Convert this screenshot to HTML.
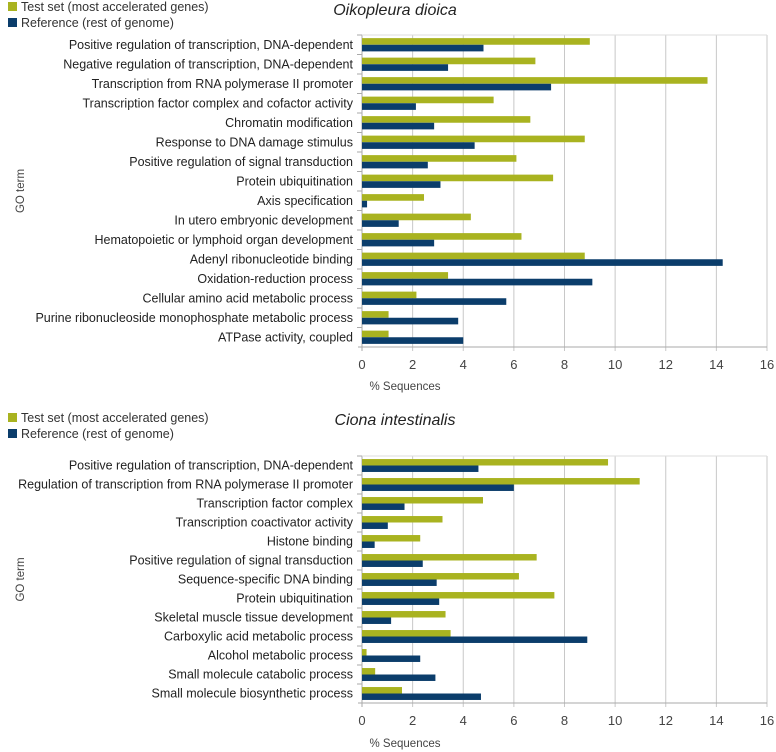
<!DOCTYPE html>
<html><head><meta charset="utf-8"><style>
html,body{margin:0;padding:0;background:#fff;width:776px;height:752px;overflow:hidden}
svg{display:block;font-family:"Liberation Sans",sans-serif}
</style></head><body>
<svg id="svg" width="776" height="752"></svg>
<script>
const topCategories=["Positive regulation of transcription, DNA-dependent","Negative regulation of transcription, DNA-dependent","Transcription from RNA polymerase II promoter","Transcription  factor complex and cofactor activity","Chromatin modification","Response to DNA damage stimulus","Positive regulation of signal transduction","Protein ubiquitination","Axis specification","In utero embryonic development","Hematopoietic or lymphoid organ development","Adenyl ribonucleotide binding","Oxidation-reduction process","Cellular amino acid metabolic process","Purine ribonucleoside monophosphate metabolic process","ATPase activity, coupled"];
const topTest=[9.0,6.85,13.65,5.2,6.65,8.8,6.1,7.55,2.45,4.3,6.3,8.8,3.4,2.15,1.05,1.05];
const topRef=[4.8,3.4,7.47,2.13,2.85,4.45,2.6,3.1,0.2,1.45,2.85,14.25,9.1,5.7,3.8,4.0];
const botCategories=["Positive regulation of transcription, DNA-dependent","Regulation of transcription from RNA polymerase II promoter","Transcription factor complex","Transcription coactivator activity","Histone binding","Positive regulation of signal transduction","Sequence-specific DNA binding","Protein ubiquitination","Skeletal muscle tissue development","Carboxylic acid metabolic process","Alcohol metabolic process","Small molecule catabolic process","Small molecule biosynthetic process"];
const botTest=[9.72,10.97,4.78,3.18,2.3,6.9,6.2,7.6,3.3,3.5,0.18,0.52,1.58];
const botRef=[4.6,6.0,1.68,1.02,0.5,2.4,2.95,3.05,1.15,8.9,2.3,2.9,4.7];
const xTicks=[0,2,4,6,8,10,12,14,16];

const NS="http://www.w3.org/2000/svg";
const svg=document.getElementById('svg');
function mk(tag,attrs,parent,text){const e=document.createElementNS(NS,tag);for(const k in attrs)e.setAttribute(k,attrs[k]);if(text!==undefined)e.textContent=text;(parent||svg).appendChild(e);return e;}
const GREEN="#a9b320",BLUE="#0b3d6b";

function chart(prefix,cats,test,ref,top,bottom,title,titleY,legY,xlabY){
  const g=mk('g',{});
  
  
  const x0=362,x1=767,xmax=16;
  const xs=v=>x0+v/xmax*(x1-x0);
  const band=(bottom-top)/cats.length;
  const l1=mk('rect',{x:8,y:legY-5,width:9,height:9,fill:GREEN},g);
  
  const t1=mk('text',{x:21,y:legY+4,'font-size':12.5,fill:'#333'},g,'Test set (most accelerated genes)');
  
  const l2=mk('rect',{x:8,y:legY+11,width:9,height:9,fill:BLUE},g);
  
  const t2=mk('text',{x:21,y:legY+20,'font-size':12.5,fill:'#333'},g,'Reference (rest of genome)');
  
  const tt=mk('text',{x:395,y:titleY,'font-size':16,'font-style':'italic','text-anchor':'middle',fill:'#222'},g,title);
  
  xTicks.forEach(t=>{
    const ln=mk('line',{x1:xs(t),x2:xs(t),y1:top,y2:bottom+4,stroke:t===0?'#aaa':'#c8c8c8','stroke-width':1},g);
    
    const tx=mk('text',{x:xs(t),y:bottom+22,'font-size':13,'text-anchor':'middle',fill:'#444'},g,String(t));
    
  });
  const ax=mk('line',{x1:x0-4,x2:x1,y1:bottom,y2:bottom,stroke:'#aaa'},g);
  
  const tp=mk('line',{x1:x0,x2:x1,y1:top,y2:top,stroke:'#ddd'},g);
  
  const bh=band*0.34;
  cats.forEach((c,i)=>{
    const yc=top+band*i+band/2;
    const tk=mk('line',{x1:x0-5,x2:x0,y1:top+band*i,y2:top+band*i,stroke:'#aaa'},g);
    
    const lb=mk('text',{x:353,y:yc+4,'font-size':12.5,'text-anchor':'end',fill:'#222'},g,c);
    
    const b1=mk('rect',{x:x0,y:yc-bh,width:xs(test[i])-x0,height:bh,fill:GREEN},g);
    
    const b2=mk('rect',{x:x0,y:yc,width:xs(ref[i])-x0,height:bh,fill:BLUE},g);
    
  });
  const xl=mk('text',{x:405,y:xlabY,'font-size':11.5,'text-anchor':'middle',fill:'#444'},g,'% Sequences');
  
  const ym=(top+bottom)/2;
  const yl=mk('text',{x:24,y:ym,'font-size':11.5,'text-anchor':'middle',fill:'#444',transform:'rotate(-90 24 '+ym+')'},g,'GO term');
  
}
chart('oikopleura',topCategories,topTest,topRef,35,347,'Oikopleura dioica',15,7,390);
chart('ciona',botCategories,botTest,botRef,456,703,'Ciona intestinalis',425,418,747);
</script>
</body></html>
